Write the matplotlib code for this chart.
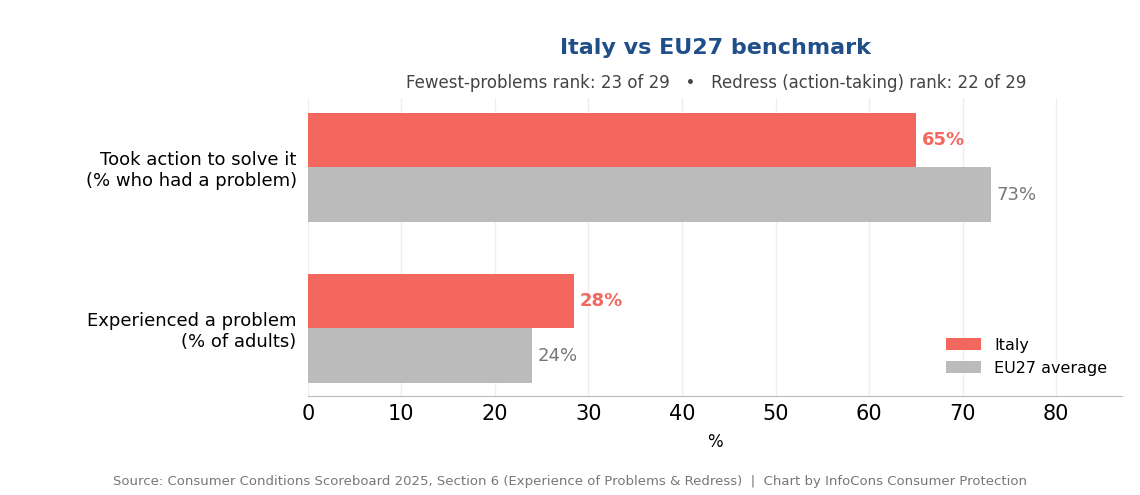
import matplotlib
matplotlib.use("Agg")
import matplotlib.pyplot as plt
import numpy as np

categories = ["Experienced a problem\n(% of adults)", "Took action to solve it\n(% who had a problem)"]
italy = [28.5, 65]
eu27 = [24, 73]
italy_labels = ["28%", "65%"]
eu_labels = ["24%", "73%"]

red = "#F4675F"
grey = "#BBBBBB"

fig = plt.figure(figsize=(11.4, 4.95), dpi=100)
ax = fig.add_axes([0.270, 0.200, 0.714, 0.602])

y = np.arange(len(categories))
h = 0.34
ax.barh(y + h / 2, italy, height=h, color=red, label="Italy", zorder=2)
ax.barh(y - h / 2, eu27, height=h, color=grey, label="EU27 average", zorder=2)

for yi, v, lab in zip(y, italy, italy_labels):
    ax.text(v + 0.6, yi + h / 2, lab, va="center", ha="left", color=red,
            fontsize=13, fontweight="bold")
for yi, v, lab in zip(y, eu27, eu_labels):
    ax.text(v + 0.6, yi - h / 2, lab, va="center", ha="left", color="#777777",
            fontsize=13)

ax.set_xlim(0, 87)
ax.set_ylim(-0.42, 1.43)
ax.set_yticks(y)
ax.set_yticklabels(categories, fontsize=13)
ax.set_xticks(range(0, 81, 10))
ax.tick_params(axis="x", labelsize=15, length=0, pad=6)
ax.tick_params(axis="y", length=0, pad=8)
ax.grid(axis="x", color="#EEEEEE", linewidth=1, zorder=0)
for s in ["top", "right", "left"]:
    ax.spines[s].set_visible(False)
ax.spines["bottom"].set_color("#BBBBBB")
ax.set_xlabel("%", fontsize=12, labelpad=6)

ax.legend(loc="lower right", frameon=False, fontsize=11.5, handlelength=2.2,
          bbox_to_anchor=(1.0, 0.02))

fig.text(0.628, 0.89, "Italy vs EU27 benchmark", ha="center", fontsize=16,
         fontweight="bold", color="#1F4E89")
fig.text(0.628, 0.823, "Fewest-problems rank: 23 of 29   \u2022   Redress (action-taking) rank: 22 of 29",
         ha="center", fontsize=12, color="#444444")
fig.text(0.5, 0.02, "Source: Consumer Conditions Scoreboard 2025, Section 6 (Experience of Problems & Redress)  |  Chart by InfoCons Consumer Protection",
         ha="center", fontsize=9.5, color="#777777")

fig.savefig("out.png", dpi=100)
